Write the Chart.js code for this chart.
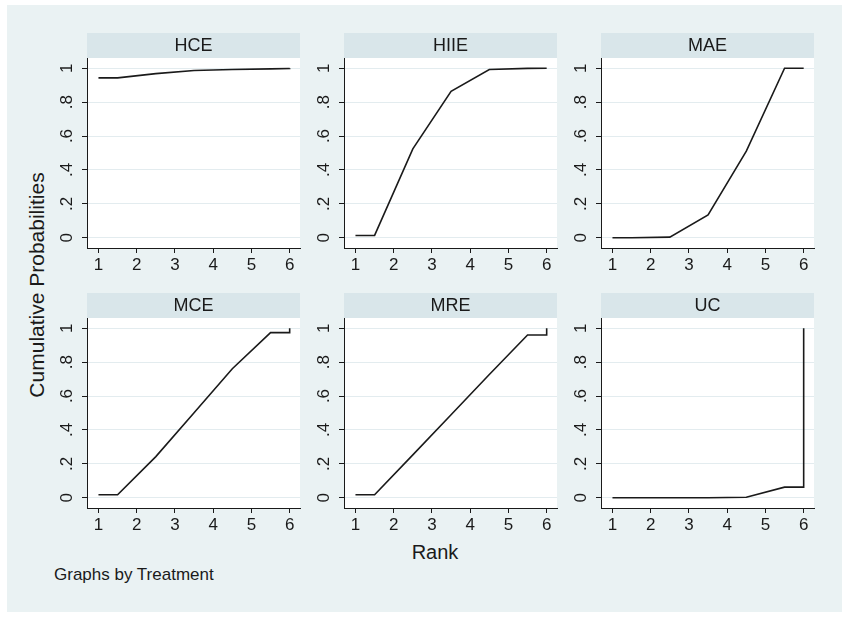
<!DOCTYPE html>
<html>
<head>
<meta charset="utf-8">
<script src="https://cdn.jsdelivr.net/npm/chart.js@4/dist/chart.umd.min.js"></script>
<style>
  body { margin: 0; background: #fff; font-family: "Liberation Sans", Arial, sans-serif; }
  #frame { position: absolute; left: 7px; top: 5px; width: 835px; height: 607px; background: #EAF2F3; }
  .panel { position: absolute; }
  .txt { position: absolute; color: #1a1a1a; white-space: nowrap; }
</style>
</head>
<body>
<div id="frame"></div>
<div class="txt" id="ytitle" style="left:37px; top:285px; font-size:21px; transform: translate(-50%,-50%) rotate(-90deg);">Cumulative Probabilities</div>
<div class="txt" style="left:435px; top:552px; font-size:20px; transform: translate(-50%,-50%);">Rank</div>
<div class="txt" style="left:54px; top:575px; font-size:17px; transform: translateY(-50%);">Graphs by Treatment</div>

<canvas class="panel" id="c0"></canvas>
<canvas class="panel" id="c1"></canvas>
<canvas class="panel" id="c2"></canvas>
<canvas class="panel" id="c3"></canvas>
<canvas class="panel" id="c4"></canvas>
<canvas class="panel" id="c5"></canvas>

<script>
// plotted vertices (x positions shared by every panel)
var rankX = [1, 1.5, 2.5, 3.5, 4.5, 5.5, 6, 6];

var treatments = ['HCE', 'HIIE', 'MAE', 'MCE', 'MRE', 'UC'];

var hce  = [0.943, 0.943, 0.968, 0.986, 0.992, 0.996, 0.998, 1.0];
var hiie = [0.014, 0.014, 0.524, 0.864, 0.992, 0.999, 1.0, 1.0];
var mae  = [0.0, 0.0, 0.004, 0.135, 0.511, 1.0, 1.0, 1.0];
var mce  = [0.018, 0.018, 0.243, 0.502, 0.761, 0.974, 0.974, 1.0];
var mre  = [0.018, 0.018, 0.253, 0.49, 0.727, 0.96, 0.96, 1.0];
var uc   = [0.0, 0.0, 0.0, 0.0, 0.003, 0.063, 0.063, 1.0];

var xTicks = [1, 2, 3, 4, 5, 6];
var yTicks = [0, 0.2, 0.4, 0.6, 0.8, 1];
var yTickLabels = ['0', '.2', '.4', '.6', '.8', '1'];

var series = [hce, hiie, mae, mce, mre, uc];

var plotLefts = [87, 344, 601];
var headerTops = [33, 293];
var LEFT_AXIS = 45, HEADER = 25, PLOT_W = 213, PLOT_H = 190, BOTTOM_AXIS = 30, RIGHT_PAD = 4;

var inkColor = '#1a1a1a';
var fontFamily = '"Liberation Sans", Arial, sans-serif';

var panelDeco = {
  id: 'panelDeco',
  beforeDraw: function(chart) {
    var ctx = chart.ctx, a = chart.chartArea;
    ctx.save();
    ctx.fillStyle = '#D9E6EA';
    ctx.fillRect(a.left, a.top - HEADER, a.right - a.left, HEADER);
    ctx.fillStyle = '#ffffff';
    ctx.fillRect(a.left, a.top, a.right - a.left, a.bottom - a.top);
    ctx.restore();
  },
  afterDraw: function(chart) {
    // rotated y tick labels, placed through the y scale
    var ctx = chart.ctx, a = chart.chartArea, ys = chart.scales.y;
    ctx.save();
    ctx.fillStyle = inkColor;
    ctx.font = '17px ' + fontFamily;
    ctx.textAlign = 'center';
    ctx.textBaseline = 'middle';
    yTicks.forEach(function(v, i) {
      var py = ys.getPixelForValue(v);
      ctx.save();
      ctx.translate(a.left - 20, py);
      ctx.rotate(-Math.PI / 2);
      ctx.fillText(yTickLabels[i], 0, 0);
      ctx.restore();
    });
    ctx.restore();
  }
};

treatments.forEach(function(name, i) {
  var col = i % 3, row = Math.floor(i / 3);
  var canvas = document.getElementById('c' + i);
  var w = LEFT_AXIS + PLOT_W + RIGHT_PAD;
  var h = HEADER + PLOT_H + BOTTOM_AXIS;
  canvas.width = w; canvas.height = h;
  canvas.style.width = w + 'px'; canvas.style.height = h + 'px';
  canvas.style.left = (plotLefts[col] - LEFT_AXIS) + 'px';
  canvas.style.top = headerTops[row] + 'px';

  var points = rankX.map(function(x, k) { return {x: x, y: series[i][k]}; });

  new Chart(canvas, {
    type: 'line',
    data: {
      datasets: [{
        data: points,
        borderColor: inkColor,
        borderWidth: 1.6,
        pointRadius: 0,
        tension: 0,
        fill: false
      }]
    },
    options: {
      responsive: false,
      animation: false,
      layout: { padding: { left: 0, right: RIGHT_PAD, top: 0, bottom: 0 } },
      plugins: {
        legend: { display: false },
        tooltip: { enabled: false },
        title: {
          display: true,
          text: name,
          fullSize: false,
          color: inkColor,
          font: { family: fontFamily, size: 18, weight: 'normal', lineHeight: 1 },
          padding: { top: 4, bottom: 3 }
        }
      },
      scales: {
        x: {
          type: 'linear',
          min: 0.7,
          max: 6.27,
          afterBuildTicks: function(scale) { scale.ticks = xTicks.map(function(v) { return {value: v}; }); },
          afterFit: function(scale) { scale.height = BOTTOM_AXIS; },
          ticks: {
            color: inkColor,
            padding: 2,
            maxRotation: 0,
            font: { family: fontFamily, size: 17 },
            callback: function(v) { return String(v); }
          },
          grid: { drawOnChartArea: false, drawTicks: true, tickLength: 5, tickColor: inkColor, tickWidth: 1 },
          border: { color: inkColor, width: 1 }
        },
        y: {
          type: 'linear',
          min: -0.06,
          max: 1.06,
          afterBuildTicks: function(scale) { scale.ticks = yTicks.map(function(v) { return {value: v}; }); },
          afterFit: function(scale) { scale.width = LEFT_AXIS; },
          ticks: { display: false },
          grid: { color: '#E3ECEF', lineWidth: 1, drawTicks: true, tickLength: 5, tickColor: inkColor, tickWidth: 1 },
          border: { color: inkColor, width: 1 }
        }
      }
    },
    plugins: [panelDeco]
  });
});
</script>
</body>
</html>
